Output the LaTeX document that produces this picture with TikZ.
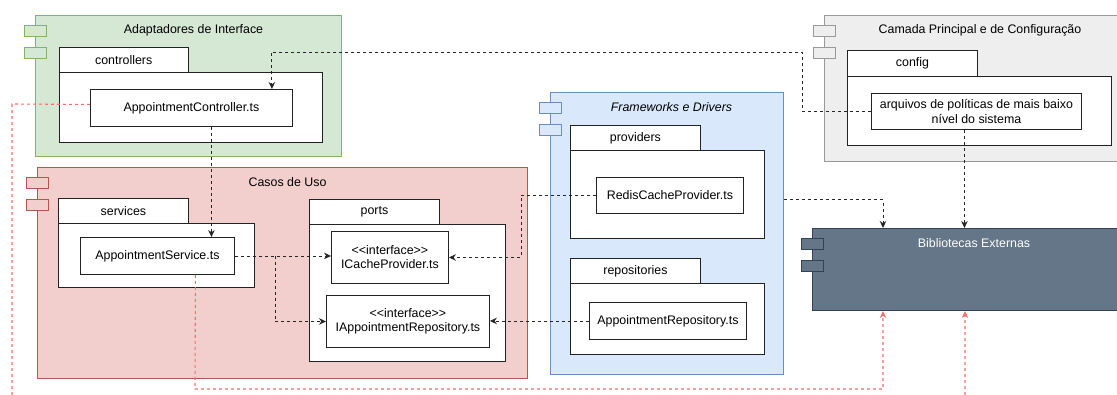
\documentclass[tikz,border=0pt]{standalone}
\usepackage{fontspec}
\setmainfont{Liberation Sans}[Ligatures=TeXOff]
\usetikzlibrary{arrows.meta}

\definecolor{grnfill}{HTML}{D5E8D4}
\definecolor{grnline}{HTML}{82B366}
\definecolor{redfill}{HTML}{F2CFCD}
\definecolor{redline}{HTML}{B85450}
\definecolor{bluefill}{HTML}{DAE8FC}
\definecolor{blueline}{HTML}{6C8EBF}
\definecolor{grayfill}{HTML}{EEEEEE}
\definecolor{grayline}{HTML}{999999}
\definecolor{libfill}{HTML}{647687}
\definecolor{libline}{HTML}{314354}
\definecolor{pkgline}{HTML}{222222}
\definecolor{uselink}{HTML}{F0706A}

% two small tabs on the left edge of a component
\newcommand\comptabs[2]{%
  \draw[#2, line width=1pt] ([xshift=-11pt,yshift=-10.5pt]#1.north west) rectangle ++(22,11);
  \draw[#2, line width=1pt] ([xshift=-11pt,yshift=-32pt]#1.north west) rectangle ++(22,11);
}

\begin{document}
\begin{tikzpicture}[x=1pt,y=-1pt,
  every node/.style={font=\fontsize{12.4}{14.2}\selectfont},
  comp/.style={line width=1pt, anchor=north west, inner sep=0pt},
  pkg/.style={draw=pkgline, fill=white, line width=0.9pt, anchor=north west, inner sep=0pt},
  file/.style={draw=pkgline, fill=white, line width=0.9pt, anchor=north west, inner sep=0pt, align=center},
  ttl/.style={anchor=center, inner sep=0pt},
  dep/.style={draw=black!85, dash pattern=on 3pt off 3pt, line width=0.9pt},
  uses/.style={draw=uselink, dash pattern=on 3pt off 3pt, line width=1.1pt},
  tip/.style={-{Stealth[length=7pt,width=6.5pt]}},
]
\useasboundingbox (0,0) rectangle (1117,394);

% ---- components ----
\node[comp, draw=grnline, fill=grnfill, minimum width=306, minimum height=141] (adapt) at (35,15) {};
\comptabs{adapt}{draw=grnline, fill=grnfill}
\node[ttl] (adaptT) at (193.5,30) {Adaptadores de Interface};

\node[comp, draw=redline, fill=redfill, minimum width=490, minimum height=211] (casos) at (37,167) {};
\comptabs{casos}{draw=redline, fill=redfill}
\node[ttl] (casosT) at (287.5,182) {Casos de Uso};

\node[comp, draw=blueline, fill=bluefill, minimum width=233, minimum height=282] (frame) at (550,92) {};
\comptabs{frame}{draw=blueline, fill=bluefill}
\node[ttl, font=\fontsize{12.4}{14.2}\selectfont\itshape] (frameT) at (671.5,107) {Frameworks e Drivers};

\node[comp, draw=grayline, fill=grayfill, minimum width=300, minimum height=146] (main) at (824,15) {};
\comptabs{main}{draw=grayline, fill=grayfill}
\node[ttl] (mainT) at (980,30) {Camada Principal e de Configuração};

\node[comp, draw=libline, fill=libfill, minimum width=312, minimum height=82] (lib) at (812,228) {};
\comptabs{lib}{draw=libline, fill=libfill}
\node[ttl, text=white] (libT) at (974,243) {Bibliotecas Externas};

% ---- packages ----
\node[pkg, minimum width=129.5, minimum height=25] (ctrlTab) at (58.5,47) {controllers};
\node[pkg, minimum width=263.5, minimum height=70] (ctrlPkg) at (58.5,72) {};

\node[pkg, minimum width=130, minimum height=25] (servTab) at (58,198) {services};
\node[pkg, minimum width=196, minimum height=64] (servPkg) at (58,223) {};

\node[pkg, minimum width=130, minimum height=25] (portTab) at (309,199) {ports};
\node[pkg, minimum width=196, minimum height=137] (portPkg) at (309,224) {};

\node[pkg, minimum width=130, minimum height=25] (provTab) at (570,125) {providers};
\node[pkg, minimum width=194, minimum height=88] (provPkg) at (570,150) {};

\node[pkg, minimum width=130, minimum height=25] (repoTab) at (570,258) {repositories};
\node[pkg, minimum width=194, minimum height=71] (repoPkg) at (570,283) {};

\node[pkg, minimum width=130, minimum height=26] (cfgTab) at (847,50) {config};
\node[pkg, minimum width=264, minimum height=69] (cfgPkg) at (847,76) {};

% ---- files ----
\node[file, minimum width=202, minimum height=37] (ctrl) at (90,89) {AppointmentController.ts};
\node[file, minimum width=154, minimum height=37] (serv) at (80,237) {AppointmentService.ts};
\node[file, minimum width=117, minimum height=52] (icache) at (331,231) {<<interface>>\\ICacheProvider.ts};
\node[file, minimum width=163, minimum height=52] (iapp) at (326,295) {<<interface>>\\IAppointmentRepository.ts};
\node[file, minimum width=147, minimum height=36] (redis) at (596,177) {RedisCacheProvider.ts};
\node[file, minimum width=157, minimum height=37] (repo) at (589,302) {AppointmentRepository.ts};
\node[file, minimum width=210, minimum height=36] (cfg) at (871,93) {arquivos de políticas de mais baixo\\nível do sistema};

% ---- dependencies ----
\coordinate (cfgBend) at (802,52);
\draw[dep, tip] (cfg.west) -| (cfgBend) -| ([xshift=-21pt]ctrl.north east);
\draw[dep, tip] ([xshift=20pt]ctrl.south) -- ([xshift=20pt]ctrl.south |- serv.north);

\coordinate (servSplit) at (275,255.5);
\draw[dep, tip] (serv.east) -- (serv.east -| icache.west);
\draw[dep, tip] (servSplit) |- (iapp.west);
\draw[dep, tip] (redis.west) -- ++(-75,0) |- (icache.east);
\draw[dep, tip] (repo.west) -- (repo.west -| iapp.east);

\draw[dep, tip] ([yshift=34pt]frame.east) -| ([xshift=71pt]lib.north west);
\draw[dep, tip] ([xshift=-12pt]cfg.south) -- ([xshift=-12pt]cfg.south |- lib.north);

% ---- library usage ----
\coordinate (servLow) at (195,389);
\draw[uses, -{Stealth[length=7pt,width=6.5pt,fill=uselink]}] ([xshift=38pt]serv.south) -- (servLow) -| ([xshift=71pt]lib.south west);
\coordinate (ctrlLeft) at (12,104);
\coordinate (ctrlLow) at (12,400);
\draw[uses, -{Stealth[length=7pt,width=6.5pt,fill=uselink]}] ([yshift=3.5pt]ctrl.west) -- (ctrlLeft) -- (ctrlLow) -| ([xshift=153pt]lib.south west);
\end{tikzpicture}
\end{document}
